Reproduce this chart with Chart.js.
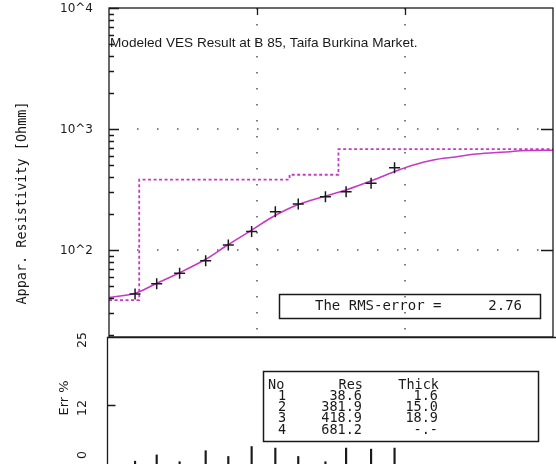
<!DOCTYPE html>
<html>
<head>
<meta charset="utf-8">
<script src="https://cdn.jsdelivr.net/npm/chart.js@4.4.0/dist/chart.umd.min.js"></script>
<style>
  html, body { margin: 0; padding: 0; background: #fff; overflow: hidden; }
  #wrap { position: relative; width: 556px; height: 464px; overflow: hidden; }
  #topChart { position: absolute; left: 0; top: 0; }
  #errChart { position: absolute; left: 0; top: 330px; }
</style>
</head>
<body>
<div id="wrap">
  <canvas id="topChart" width="556" height="340"></canvas>
  <canvas id="errChart" width="556" height="138"></canvas>
</div>
<script>
const chartTitle = 'Modeled VES Result at B 85, Taifa Burkina Market.';
const yTitle = 'Appar. Resistivity [Ohmm]';

// observed apparent resistivity: AB/2 [m], rho [Ohmm], error [%]
const obsSpacing = [1.5, 2.1, 3, 4.5, 6.4, 9.2, 13.3, 19, 29, 40, 59, 85];
const obsRho = [43.3, 52.7, 64.1, 81.6, 110, 142, 207, 240, 276, 303, 356, 479];
const obsErr = [1.3, 2.5, 1.2, 3.3, 2.2, 4.1, 3.8, 2.2, 1.2, 3.8, 3.6, 3.8];

// fitted model response
const fitSpacing = [1, 1.54, 2.1, 3, 4.5, 6.4, 9.2, 12.3, 18.6, 28.8, 40.4, 58, 83.5, 114, 155, 224, 290, 398, 515, 595, 1000];
const fitRho = [40.4, 44.4, 53.1, 64.9, 83.8, 111, 146, 183, 235, 278, 315, 370, 442, 504, 555, 590, 618, 637, 649, 662, 668];

// layer table
const layerNo = [1, 2, 3, 4];
const layerRes = [38.6, 381.9, 418.9, 681.2];
const layerThick = [1.6, 15.0, 18.9, null];
const rmsError = 2.76;

const xMin = 1, xMax = 1000;
const resMin = 19.1, resMax = 10000;
const errTicks = [0, 12, 25];

const ink = '#1a1a1a';
const magenta = '#c838c8';

function isDecade(v) {
  const e = Math.log10(v);
  return Math.abs(e - Math.round(e)) < 1e-9;
}

// log ticks 1..9 x 10^n inside [lo, hi]
function logTicks(lo, hi, minors) {
  const out = [];
  for (let e = Math.floor(Math.log10(lo)); e <= Math.ceil(Math.log10(hi)); e++) {
    for (let m = 1; m <= 9; m++) {
      if (!minors && m > 1) break;
      const v = m * Math.pow(10, e);
      if (v >= lo * 0.999 && v <= hi * 1.001) out.push(v);
    }
  }
  return out;
}
const xDecades = logTicks(xMin, xMax, false);
const yTicks = logTicks(resMin, resMax, true);

// step line of the layered model
const modelPts = [];
let from = xMin, depth = 0;
layerRes.forEach((r, i) => {
  let to = xMax;
  if (layerThick[i] != null) { depth += layerThick[i]; to = depth; }
  modelPts.push({ x: from, y: r }, { x: to, y: r });
  from = to;
});

const topDecor = {
  id: 'topDecor',
  beforeDatasetsDraw(chart) {
    const { ctx, chartArea: a, scales: { x, y } } = chart;
    ctx.save();
    ctx.strokeStyle = '#555';
    ctx.lineWidth = 1.5;
    ctx.setLineDash([1.5, 14.5]);
    ctx.beginPath();
    xDecades.forEach(v => {
      if (v <= xMin || v >= xMax) return;
      const p = Math.round(x.getPixelForValue(v));
      ctx.moveTo(p, a.top);
      ctx.lineTo(p, a.bottom);
    });
    ctx.stroke();
    ctx.setLineDash([1.5, 18.5]);
    ctx.beginPath();
    yTicks.forEach(v => {
      if (!isDecade(v) || v >= resMax) return;
      const p = Math.round(y.getPixelForValue(v));
      ctx.moveTo(a.left + 28, p);
      ctx.lineTo(a.right, p);
    });
    ctx.stroke();
    ctx.restore();
  },
  afterDraw(chart) {
    const { ctx, chartArea: a, scales: { x, y } } = chart;
    ctx.save();
    ctx.strokeStyle = ink;
    ctx.lineWidth = 1.3;
    ctx.strokeRect(a.left, a.top, a.right - a.left, a.bottom - a.top);
    ctx.beginPath();
    yTicks.forEach(v => {
      const p = Math.round(y.getPixelForValue(v)) + 0.5;
      const major = isDecade(v);
      ctx.moveTo(a.left, p);
      ctx.lineTo(a.left + (major ? 10 : 5), p);
      if (major && p > a.top + 2) {
        ctx.moveTo(a.right, p);
        ctx.lineTo(a.right - 12, p);
      }
    });
    xDecades.forEach(v => {
      if (v <= xMin || v >= xMax) return;
      const p = Math.round(x.getPixelForValue(v)) + 0.5;
      ctx.moveTo(p, a.top);
      ctx.lineTo(p, a.top + 7);
    });
    ctx.stroke();

    ctx.fillStyle = ink;
    ctx.textBaseline = 'middle';

    // decade labels
    ctx.font = '12px "DejaVu Sans"';
    ctx.textAlign = 'right';
    yTicks.forEach(v => {
      if (!isDecade(v)) return;
      ctx.fillText('10^' + Math.round(Math.log10(v)), 93, y.getPixelForValue(v) + 1);
    });

    ctx.font = '13.6px "Liberation Sans"';
    ctx.textAlign = 'left';
    ctx.fillText(chartTitle, a.left + 1, a.top + 35);

    ctx.save();
    ctx.translate(22, 203);
    ctx.rotate(-Math.PI / 2);
    ctx.textAlign = 'center';
    ctx.font = '13.5px "DejaVu Sans Mono"';
    ctx.fillText(yTitle, 0, 0);
    ctx.restore();

    // RMS box
    ctx.lineWidth = 1.5;
    ctx.strokeRect(279.5, 294.5, 261, 24);
    ctx.font = '14px "DejaVu Sans Mono"';
    ctx.textAlign = 'left';
    ctx.fillText('The RMS-error =', 315, 306.5);
    ctx.textAlign = 'right';
    ctx.fillText(rmsError.toFixed(2), 522, 306.5);
    ctx.restore();
  }
};

new Chart(document.getElementById('topChart'), {
  type: 'line',
  data: {
    datasets: [
      {
        label: 'observed',
        data: obsSpacing.map((s, i) => ({ x: s, y: obsRho[i] })),
        showLine: false,
        pointStyle: 'cross',
        pointRadius: 5.5,
        borderColor: ink,
        borderWidth: 1.5
      },
      {
        label: 'fit',
        data: fitSpacing.map((s, i) => ({ x: s, y: fitRho[i] })),
        borderColor: magenta,
        borderWidth: 1.6,
        pointRadius: 0,
        cubicInterpolationMode: 'monotone'
      },
      {
        label: 'model',
        data: modelPts,
        borderColor: magenta,
        borderWidth: 1.8,
        borderDash: [3, 2.5],
        pointRadius: 0,
        tension: 0
      }
    ]
  },
  options: {
    responsive: false,
    animation: false,
    layout: { autoPadding: false, padding: { top: 8, right: 3, bottom: 3, left: 109 } },
    plugins: { legend: { display: false }, tooltip: { enabled: false } },
    scales: {
      x: { type: 'logarithmic', min: xMin, max: xMax, display: false },
      y: { type: 'logarithmic', min: resMin, max: resMax, display: false }
    }
  },
  plugins: [topDecor]
});

const errDecor = {
  id: 'errDecor',
  afterDraw(chart) {
    const { ctx, chartArea: a, scales: { y } } = chart;
    ctx.save();
    ctx.strokeStyle = ink;
    ctx.lineWidth = 1.3;
    const fx = a.left - 1.5;
    ctx.beginPath();
    ctx.moveTo(fx, chart.height);
    ctx.lineTo(fx, a.top + 0.5);
    ctx.lineTo(chart.width, a.top + 0.5);
    errTicks.forEach(v => {
      const p = Math.round(y.getPixelForValue(v)) + 0.5;
      if (p > a.top + 2 && p < a.bottom - 2) {
        ctx.moveTo(fx, p);
        ctx.lineTo(fx + 8, p);
      }
    });
    ctx.stroke();

    ctx.fillStyle = ink;
    ctx.textAlign = 'center';
    ctx.textBaseline = 'middle';
    ctx.font = '12.5px "DejaVu Sans"';
    errTicks.forEach(v => {
      const p = Math.min(y.getPixelForValue(v) + 3, chart.height - 13);
      ctx.save();
      ctx.translate(83, p);
      ctx.rotate(-Math.PI / 2);
      ctx.fillText(String(v), 0, 0);
      ctx.restore();
    });
    ctx.save();
    ctx.translate(65, 68);
    ctx.rotate(-Math.PI / 2);
    ctx.font = '13px "DejaVu Sans"';
    ctx.fillText('Err %', 0, 0);
    ctx.restore();

    // layer table
    ctx.lineWidth = 1.5;
    ctx.strokeRect(263.5, 41.5, 275, 70);
    ctx.font = '13.5px "DejaVu Sans Mono"';
    const row0 = 55, rowH = 11.3;
    ctx.textAlign = 'left';
    ctx.fillText('No', 268, row0);
    ctx.textAlign = 'right';
    ctx.fillText('Res', 363, row0);
    ctx.fillText('Thick', 439, row0);
    layerNo.forEach((n, i) => {
      const ry = row0 + (i + 1) * rowH;
      ctx.textAlign = 'center';
      ctx.fillText(String(n), 282, ry);
      ctx.textAlign = 'right';
      ctx.fillText(layerRes[i].toFixed(1), 362, ry);
      ctx.fillText(layerThick[i] == null ? '-.-' : layerThick[i].toFixed(1), 438, ry);
    });
    ctx.restore();
  }
};

new Chart(document.getElementById('errChart'), {
  type: 'bar',
  data: {
    datasets: [{
      label: 'Err %',
      data: obsSpacing.map((s, i) => ({ x: s, y: obsErr[i] })),
      backgroundColor: ink,
      borderWidth: 0,
      barThickness: 1.5
    }]
  },
  options: {
    responsive: false,
    animation: false,
    layout: { autoPadding: false, padding: { top: 7, right: 3, bottom: 0, left: 109 } },
    plugins: { legend: { display: false }, tooltip: { enabled: false } },
    scales: {
      x: { type: 'logarithmic', min: xMin, max: xMax, display: false, offset: false },
      y: { type: 'linear', min: 0, max: 25, display: false }
    }
  },
  plugins: [errDecor]
});
</script>
</body>
</html>
